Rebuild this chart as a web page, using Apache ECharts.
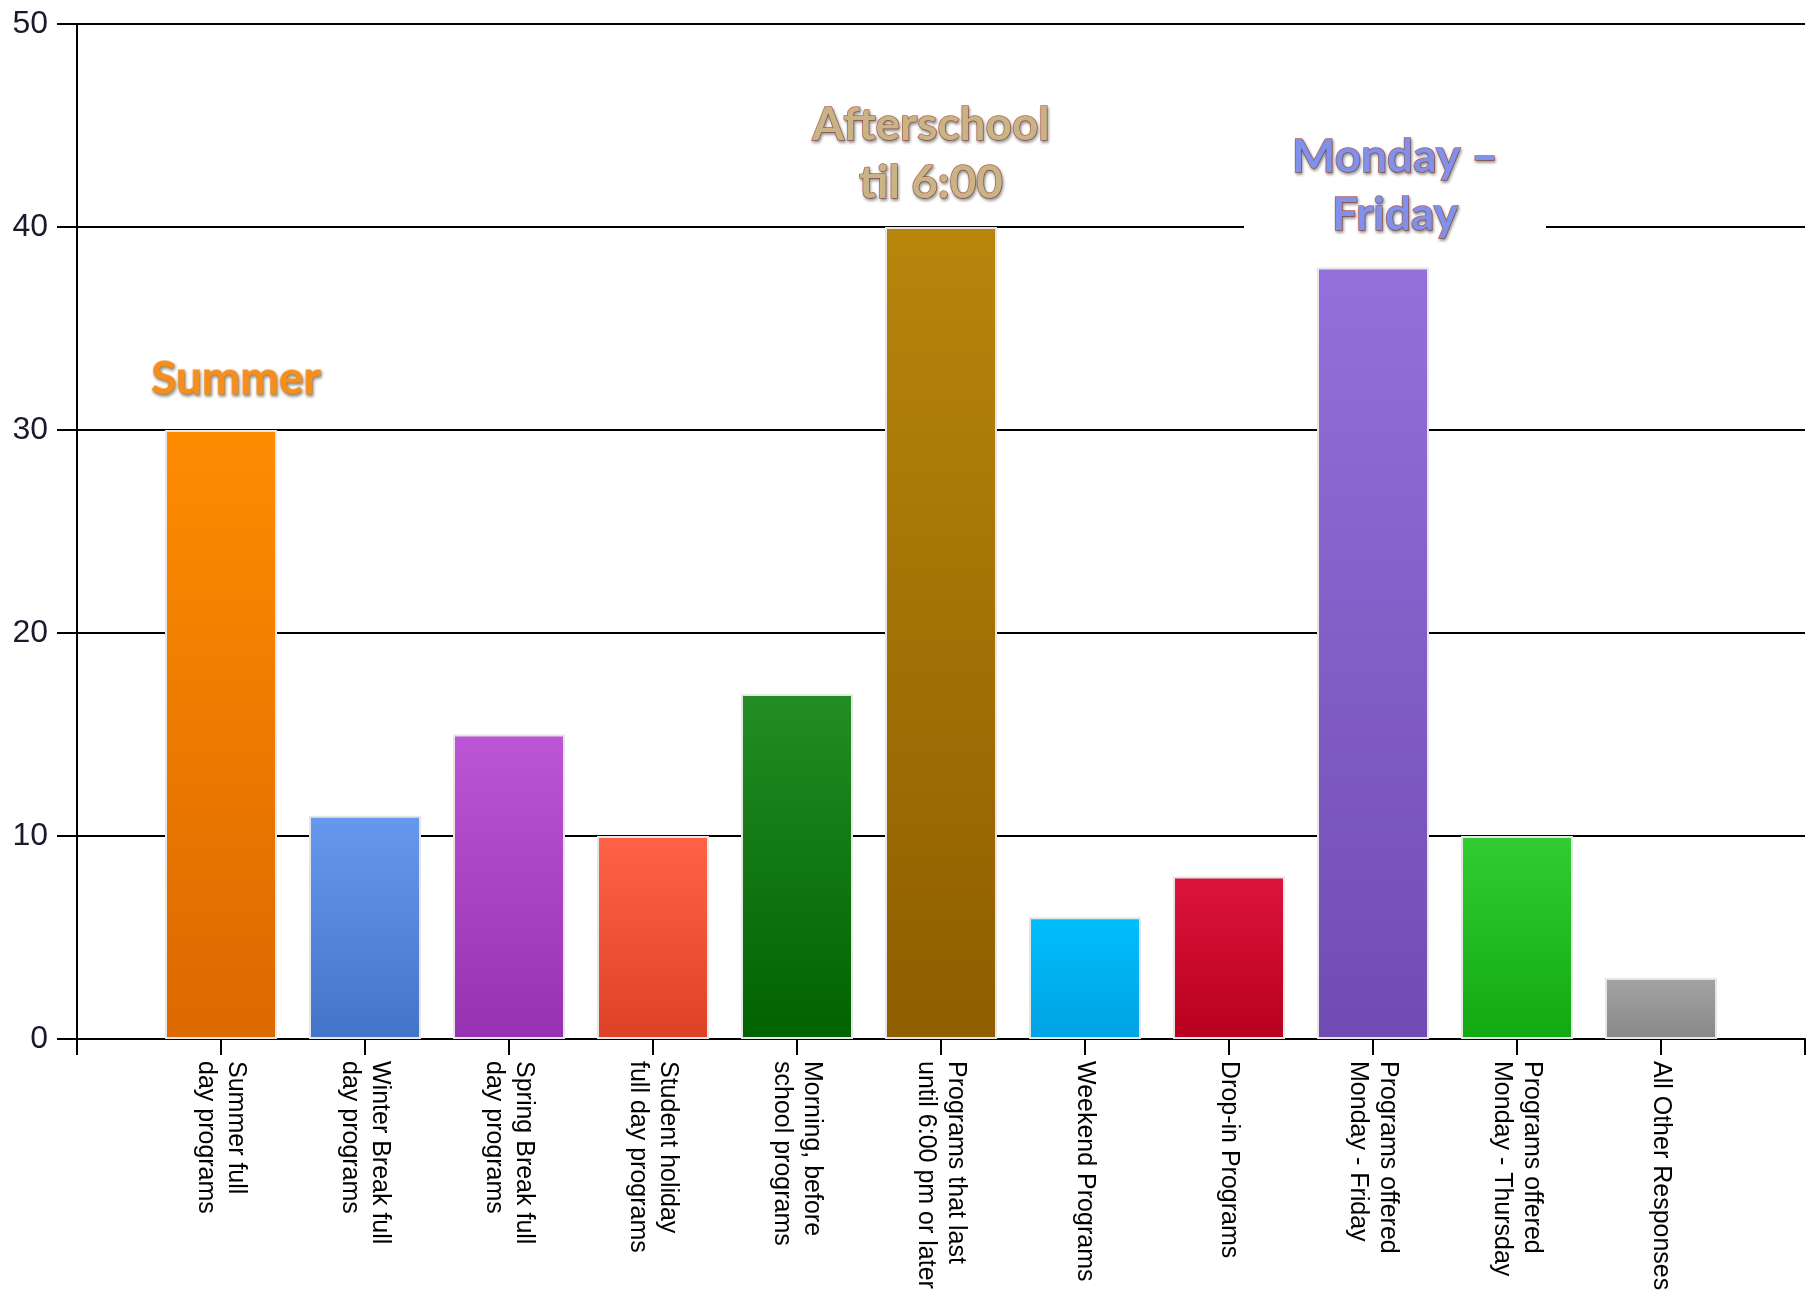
<!DOCTYPE html>
<html>
<head>
<meta charset="utf-8">
<script src="https://cdn.jsdelivr.net/npm/echarts/dist/echarts.min.js"></script>
<style>
html,body{margin:0;padding:0;background:#fff;}
#chart{width:1814px;height:1307px;}
</style>
</head>
<body>
<div id="chart"></div>
<script>
var categories = [
  'Summer full\nday programs',
  'Winter Break full\nday programs',
  'Spring Break full\nday programs',
  'Student holiday\nfull day programs',
  'Morning, before\nschool programs',
  'Programs that last\nuntil 6:00 pm or later',
  'Weekend Programs',
  'Drop-in Programs',
  'Programs offered\nMonday - Friday',
  'Programs offered\nMonday - Thursday',
  'All Other Responses'
];
var values = [30, 11, 15, 10, 17, 40, 6, 8, 38, 10, 3];
var topColors = ['#FF8C00', '#6698EE', '#BC55D6', '#FF6347', '#238D23', '#B8860B', '#00BFFF', '#DC143C', '#9370DB', '#32CD32', '#A3A3A3'];
var bottomColors = ['#DC6800', '#4474C8', '#9632B2', '#DE4226', '#006200', '#8E5E00', '#00A2E2', '#B8001E', '#704CB2', '#12A812', '#888888'];
var yTicks = [0, 10, 20, 30, 40, 50];
var annotations = [
  {text: 'Summer', cat: 0, value: 32.5, fill: '#F58E1C', stroke: '#F9B766', dx: 15, box: false},
  {text: 'Afterschool\ntil 6:00', cat: 5, value: 43.6, fill: '#C9B485', stroke: '#BC6A5C', dx: -10, box: false},
  {text: 'Monday \u2013\nFriday', cat: 8, value: 42.0, fill: '#7F91EA', stroke: '#B4635C', dx: 22, box: true}
];

var axisData = [''].concat(categories).concat(['']);
var barData = [null].concat(values.map(function (v, i) {
  return {
    value: v,
    itemStyle: {
      color: new echarts.graphic.LinearGradient(0, 0, 0, 1, [
        {offset: 0, color: topColors[i]},
        {offset: 1, color: bottomColors[i]}
      ])
    }
  };
})).concat([null]);

var markData = annotations.map(function (a) {
  return {
    coord: [a.cat + 1, a.value],
    symbol: 'rect',
    symbolSize: 0,
    label: {
      show: true,
      position: 'inside',
      formatter: a.text,
      offset: [a.dx, 0],
      fontFamily: 'Lato',
      fontWeight: 'bold',
      fontSize: 46,
      lineHeight: 58,
      align: 'center',
      color: a.fill,
      textBorderColor: a.stroke,
      textBorderWidth: 1.5,
      textShadowColor: 'rgba(0,0,0,0.35)',
      textShadowBlur: 3,
      textShadowOffsetX: 1,
      textShadowOffsetY: 2,
      backgroundColor: a.box ? '#ffffff' : 'transparent',
      padding: a.box ? [6, 48, 10, 48] : 0
    }
  };
});

var chart = echarts.init(document.getElementById('chart'), null, {renderer: 'canvas'});
chart.setOption({
  animation: false,
  backgroundColor: '#ffffff',
  grid: {left: 77, right: 9, top: 24, bottom: 268, containLabel: false},
  xAxis: {
    type: 'category',
    data: axisData,
    boundaryGap: false,
    axisLine: {show: true, lineStyle: {color: '#000', width: 2}},
    axisTick: {show: true, interval: 0, length: 16, lineStyle: {color: '#000', width: 2}},
    axisLabel: {
      interval: 0,
      rotate: -90,
      margin: 22,
      fontFamily: 'Liberation Sans',
      fontSize: 25,
      lineHeight: 30,
      color: '#000'
    },
    splitLine: {show: false}
  },
  yAxis: {
    type: 'value',
    min: yTicks[0],
    max: yTicks[yTicks.length - 1],
    interval: 10,
    axisLine: {show: true, lineStyle: {color: '#000', width: 2}},
    axisTick: {show: true, length: 20, lineStyle: {color: '#000', width: 2}},
    axisLabel: {
      margin: 29,
      fontFamily: 'Liberation Sans',
      fontSize: 32,
      color: '#1a1a2a'
    },
    splitLine: {show: true, lineStyle: {color: '#000', width: 2}}
  },
  series: [{
    type: 'bar',
    data: barData,
    barWidth: 112,
    itemStyle: {borderColor: '#e6e6e6', borderWidth: 2},
    markPoint: {
      silent: true,
      data: markData
    }
  }]
});
</script>
</body>
</html>
